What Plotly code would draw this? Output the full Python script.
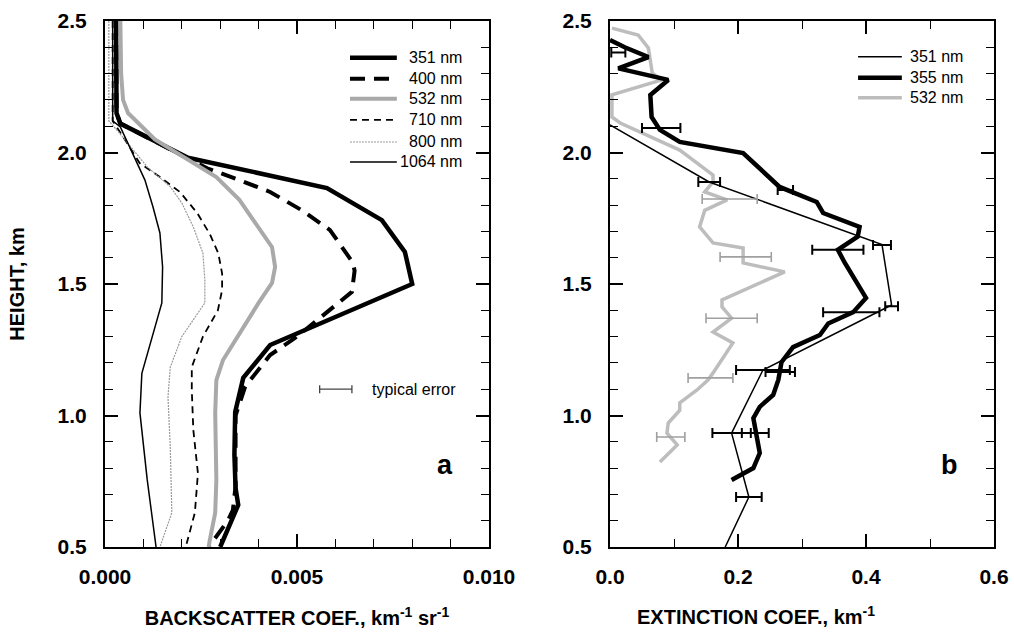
import plotly.graph_objects as go

# ---------------- Panel a: backscatter coefficient profiles ----------------
bs_351_h = [2.50, 2.30, 2.15, 2.11, 1.98, 1.865, 1.743, 1.622, 1.50, 1.268, 1.143, 1.013, 0.85, 0.724, 0.66, 0.50]
bs_351_v = [0.00029, 0.00029, 0.00030, 0.00040, 0.00216, 0.00578, 0.00721, 0.00781, 0.00800, 0.00430, 0.00360, 0.00339, 0.00337, 0.00340, 0.00347, 0.00300]

bs_400_h = [2.50, 2.30, 2.15, 2.11, 1.98, 1.94, 1.895, 1.85, 1.78, 1.705, 1.58, 1.55, 1.47, 1.37, 1.30, 1.23, 1.11, 1.00, 0.73, 0.64, 0.60, 0.50]
bs_400_v = [0.00029, 0.00029, 0.00030, 0.00040, 0.00216, 0.00266, 0.00350, 0.00430, 0.00513, 0.00586, 0.00646, 0.00650, 0.00643, 0.00560, 0.00500, 0.00430, 0.00365, 0.00340, 0.00340, 0.00333, 0.00320, 0.00270]

bs_532_h = [2.50, 2.30, 2.20, 2.15, 2.05, 1.98, 1.907, 1.82, 1.717, 1.64, 1.565, 1.504, 1.428, 1.30, 1.21, 1.135, 1.01, 0.755, 0.63, 0.527, 0.50]
bs_532_v = [0.00040, 0.00042, 0.00047, 0.00060, 0.00130, 0.00210, 0.00290, 0.00350, 0.00400, 0.00435, 0.00443, 0.00435, 0.00400, 0.00344, 0.00307, 0.00290, 0.00287, 0.00290, 0.00287, 0.00273, 0.00270]

bs_710_h = [2.50, 2.12, 2.06, 1.96, 1.907, 1.85, 1.77, 1.69, 1.617, 1.54, 1.477, 1.40, 1.30, 1.184, 1.097, 0.945, 0.78, 0.63, 0.515, 0.50]
bs_710_v = [0.00020, 0.00020, 0.00047, 0.00090, 0.00143, 0.00195, 0.00240, 0.00273, 0.00295, 0.00305, 0.00305, 0.00294, 0.00255, 0.00226, 0.00226, 0.00230, 0.00242, 0.00234, 0.00213, 0.00210]

bs_800_h = [2.50, 2.12, 2.07, 1.945, 1.87, 1.808, 1.717, 1.617, 1.515, 1.428, 1.30, 1.184, 1.07, 0.88, 0.63, 0.50]
bs_800_v = [0.00010, 0.00010, 0.00040, 0.00110, 0.00170, 0.00200, 0.00230, 0.00255, 0.00260, 0.00260, 0.00200, 0.00170, 0.00164, 0.00170, 0.00174, 0.00143]

bs_1064_h = [2.50, 2.12, 2.097, 2.02, 1.895, 1.793, 1.694, 1.565, 1.428, 1.16, 1.01, 0.755, 0.50]
bs_1064_v = [0.00020, 0.00020, 0.00040, 0.00065, 0.00104, 0.00125, 0.00143, 0.00150, 0.00148, 0.00096, 0.00091, 0.00110, 0.00133]

# typical error bar shown in panel a
typ_err_v = [0.00601]
typ_err_h = [1.10]
typ_err_half = [0.00042]

# ---------------- Panel b: extinction coefficient profiles ----------------
ext_351_h = [2.105, 1.888, 1.65, 1.42, 1.173, 0.933, 0.69, 0.50]
ext_351_v = [0.0, 0.155, 0.425, 0.44, 0.239, 0.19, 0.217, 0.18]
err_351_h = [1.888, 1.648, 1.415, 1.173, 0.933, 0.69]
err_351_v = [0.155, 0.425, 0.44, 0.239, 0.19, 0.217]
err_351_d = [0.017, 0.014, 0.010, 0.042, 0.030, 0.020]

ext_355_h = [2.428, 2.40, 2.363, 2.32, 2.276, 2.219, 2.135, 2.086, 2.04, 1.998, 1.869, 1.812, 1.77, 1.717, 1.68, 1.63,
             1.58, 1.447, 1.393, 1.35, 1.306, 1.26, 1.203, 1.135, 1.078, 1.033, 0.99, 0.933, 0.857, 0.80, 0.755]
ext_355_v = [0.0, 0.023, 0.06, 0.013, 0.091, 0.063, 0.065, 0.078, 0.109, 0.208, 0.265, 0.323, 0.333, 0.39, 0.387, 0.356,
             0.367, 0.40, 0.38, 0.341, 0.328, 0.286, 0.268, 0.263, 0.255, 0.234, 0.224, 0.229, 0.234, 0.224, 0.19]
err_355_h = [2.38, 2.093, 1.857, 1.63, 1.393, 1.165, 0.933]
err_355_v = [0.013, 0.080, 0.274, 0.356, 0.377, 0.266, 0.227]
err_355_d = [0.011, 0.030, 0.012, 0.040, 0.044, 0.023, 0.021]

ext_532_h = [2.473, 2.447, 2.397, 2.302, 2.276, 2.219, 2.135, 2.112, 2.009, 1.914, 1.888, 1.85, 1.82, 1.78, 1.717, 1.656,
             1.637, 1.58, 1.546, 1.44, 1.413, 1.37, 1.317, 1.276, 1.162, 1.135, 1.097, 1.048, 1.02, 0.971, 0.933, 0.888, 0.823]
ext_532_v = [0.003, 0.044, 0.06, 0.066, 0.081, 0.003, 0.003, 0.016, 0.109, 0.161, 0.161, 0.148, 0.183, 0.148, 0.14, 0.161,
             0.208, 0.208, 0.273, 0.175, 0.175, 0.19, 0.161, 0.192, 0.161, 0.153, 0.136, 0.109, 0.109, 0.091, 0.089, 0.105, 0.078]
err_532_h = [1.823, 1.603, 1.37, 1.143, 0.918]
err_532_v = [0.187, 0.212, 0.19, 0.157, 0.095]
err_532_d = [0.043, 0.040, 0.040, 0.035, 0.022]

FONT = "Liberation Sans, Arial, sans-serif"
GRAY = "#a9a9a9"
LIGHT = "#bdbdbd"

# line styles per wavelength (panel a)
styles_a = {
    "351 nm": dict(color="black", width=4.5, dash="solid"),
    "400 nm": dict(color="black", width=4, dash="15px,9px"),
    "532 nm": dict(color=GRAY, width=4, dash="solid"),
    "710 nm": dict(color="black", width=1.8, dash="7px,5px"),
    "800 nm": dict(color="#9a9a9a", width=1.2, dash="2px,1px"),
    "1064 nm": dict(color="black", width=1.5, dash="solid"),
}
series_a = {
    "351 nm": (bs_351_v, bs_351_h),
    "400 nm": (bs_400_v, bs_400_h),
    "532 nm": (bs_532_v, bs_532_h),
    "710 nm": (bs_710_v, bs_710_h),
    "800 nm": (bs_800_v, bs_800_h),
    "1064 nm": (bs_1064_v, bs_1064_h),
}
styles_b = {
    "351 nm": dict(color="black", width=1.5, dash="solid"),
    "355 nm": dict(color="black", width=4.5, dash="solid"),
    "532 nm": dict(color=LIGHT, width=3.5, dash="solid"),
}

fig = go.Figure()

for name, (xv, yv) in series_a.items():
    fig.add_trace(go.Scatter(x=xv, y=yv, mode="lines", line=styles_a[name], name=name,
                             showlegend=False, xaxis="x", yaxis="y"))

fig.add_trace(go.Scatter(
    x=typ_err_v, y=typ_err_h, mode="markers", marker=dict(size=0.1, color="#444"),
    error_x=dict(type="data", array=typ_err_half, color="#444", thickness=1.3, width=4),
    showlegend=False, xaxis="x", yaxis="y"))

# panel b lines
fig.add_trace(go.Scatter(x=ext_532_v, y=ext_532_h, mode="lines", line=styles_b["532 nm"],
                         showlegend=False, xaxis="x2", yaxis="y2"))
fig.add_trace(go.Scatter(x=ext_351_v, y=ext_351_h, mode="lines", line=styles_b["351 nm"],
                         showlegend=False, xaxis="x2", yaxis="y2"))
fig.add_trace(go.Scatter(x=ext_355_v, y=ext_355_h, mode="lines", line=styles_b["355 nm"],
                         showlegend=False, xaxis="x2", yaxis="y2"))

# panel b error bars
for ev, eh, ed, col, th in [
    (err_532_v, err_532_h, err_532_d, "#a0a0a0", 1.6),
    (err_351_v, err_351_h, err_351_d, "black", 2),
    (err_355_v, err_355_h, err_355_d, "black", 2),
]:
    fig.add_trace(go.Scatter(
        x=ev, y=eh, mode="markers", marker=dict(size=0.1, color=col),
        error_x=dict(type="data", array=ed, color=col, thickness=th, width=5),
        showlegend=False, xaxis="x2", yaxis="y2"))

# ---------------- legends ----------------
LEG_SIZE = 16
shapes = []
annotations = []
rows_a = [0.930, 0.890, 0.852, 0.812, 0.770, 0.732]
for (name, st), yy in zip(styles_a.items(), rows_a):
    shapes.append(dict(type="line", xref="x domain", yref="y domain", x0=0.638, x1=0.760, y0=yy, y1=yy,
                       line=dict(color=st["color"], width=st["width"], dash=st["dash"])))
    annotations.append(dict(xref="x domain", yref="y domain", x=0.935, y=yy, text=name, showarrow=False,
                            xanchor="right", yanchor="middle", font=dict(family=FONT, size=LEG_SIZE, color="black")))

rows_b = [0.932, 0.892, 0.854]
for (name, st), yy in zip(styles_b.items(), rows_b):
    shapes.append(dict(type="line", xref="x2 domain", yref="y2 domain", x0=0.646, x1=0.760, y0=yy, y1=yy,
                       line=dict(color=st["color"], width=st["width"], dash=st["dash"])))
    annotations.append(dict(xref="x2 domain", yref="y2 domain", x=0.775, y=yy, text=name, showarrow=False,
                            xanchor="left", yanchor="middle", font=dict(family=FONT, size=LEG_SIZE, color="black")))

annotations.append(dict(xref="x", yref="y", x=0.0069, y=typ_err_h[0], text="typical error", showarrow=False,
                        xanchor="left", yanchor="middle", font=dict(family=FONT, size=LEG_SIZE, color="black")))
annotations.append(dict(xref="x", yref="y", x=0.00885, y=0.812, text="<b>a</b>", showarrow=False,
                        xanchor="center", yanchor="middle", font=dict(family=FONT, size=27, color="black")))
annotations.append(dict(xref="x2", yref="y2", x=0.531, y=0.812, text="<b>b</b>", showarrow=False,
                        xanchor="center", yanchor="middle", font=dict(family=FONT, size=27, color="black")))

tickfont = dict(family=FONT, size=21, color="black", weight="bold")
titlefont = dict(family=FONT, size=20, color="black", weight="bold")

# extinction axis title, set slightly left of the panel centre
annotations.append(dict(xref="x2 domain", yref="paper", x=0.38, y=-0.131,
                        text="EXTINCTION COEF., km<sup>-1</sup>", showarrow=False,
                        xanchor="center", yanchor="middle", font=titlefont))

common = dict(showline=True, linecolor="black", linewidth=2, mirror="allticks", ticks="inside",
              ticklen=13, tickwidth=1.6, tickcolor="black", showgrid=False, zeroline=False,
              tickfont=tickfont, automargin=False)

fig.update_layout(
    width=1014, height=642,
    margin=dict(l=105, r=20, t=21, b=95),
    paper_bgcolor="white", plot_bgcolor="white",
    font=dict(family=FONT, color="black"),
    xaxis=dict(domain=[0.0, 384 / 889], range=[0, 0.010], tickvals=[0, 0.005, 0.010],
               ticktext=["0.000", "0.005", "0.010"],
               minor=dict(dtick=0.001, ticks="inside", ticklen=8, tickwidth=1.4, tickcolor="black"),
               title=dict(text="BACKSCATTER COEF., km<sup>-1</sup> sr<sup>-1</sup>", font=titlefont, standoff=24),
               ticklabelstandoff=10, anchor="y", **common),
    yaxis=dict(domain=[0, 1], range=[0.5, 2.5], tickvals=[0.5, 1.0, 1.5, 2.0, 2.5],
               ticktext=["0.5", "1.0", "1.5", "2.0", "2.5"],
               minor=dict(dtick=0.1, ticks="inside", ticklen=8, tickwidth=1.4, tickcolor="black"),
               title=dict(text="HEIGHT, km", font=titlefont, standoff=28),
               ticklabelstandoff=12, anchor="x", **common),
    xaxis2=dict(domain=[505 / 889, 1.0], range=[0, 0.6], tickvals=[0, 0.2, 0.4, 0.6],
                ticktext=["0.0", "0.2", "0.4", "0.6"],
                minor=dict(dtick=0.1, ticks="inside", ticklen=8, tickwidth=1.4, tickcolor="black"),
                ticklabelstandoff=10, anchor="y2", **common),
    yaxis2=dict(domain=[0, 1], range=[0.5, 2.5], tickvals=[0.5, 1.0, 1.5, 2.0, 2.5],
                ticktext=["0.5", "1.0", "1.5", "2.0", "2.5"],
                minor=dict(dtick=0.1, ticks="inside", ticklen=8, tickwidth=1.4, tickcolor="black"),
                ticklabelstandoff=12, anchor="x2", **common),
    shapes=shapes,
    annotations=annotations,
    showlegend=False,
)

fig.write_html("out.html")
